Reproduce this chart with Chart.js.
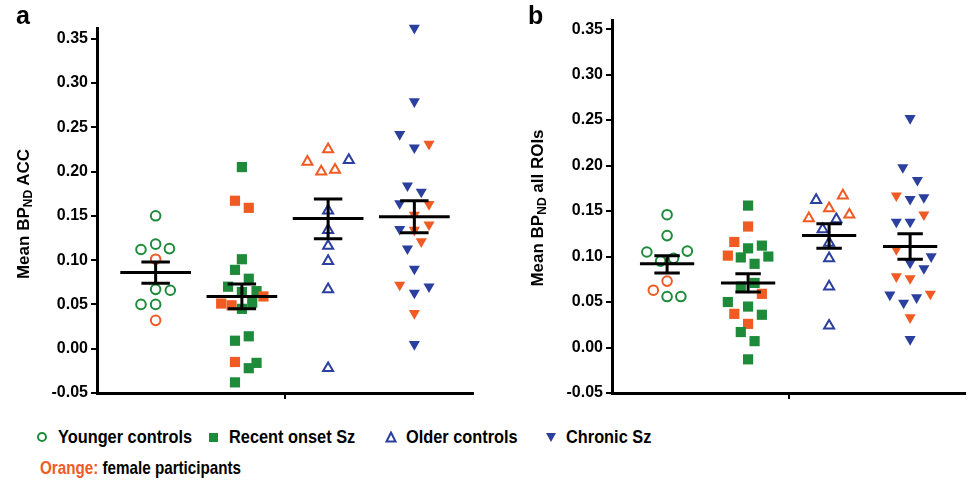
<!DOCTYPE html>
<html>
<head>
<meta charset="utf-8">
<script src="https://cdn.jsdelivr.net/npm/chart.js@4"></script>
<style>
  body { margin:0; background:#fff; width:973px; height:490px; position:relative; overflow:hidden; font-family:"Liberation Sans", Arial, sans-serif; color:#000; }
  canvas { position:absolute; top:0; }
  .tag { position:absolute; font-weight:bold; font-size:25px; line-height:26px; }
  .ylab { position:absolute; transform:translate(-50%,-50%) rotate(-90deg); white-space:nowrap; font-weight:bold; font-size:17px; }
  .ylab sub { font-size:12px; vertical-align:-3px; }
  .leg { position:absolute; font-family:"Liberation Sans", Arial, sans-serif; font-weight:bold; font-size:19px; line-height:20px; white-space:nowrap; transform:scaleX(0.86); transform-origin:0 50%; }
  .leg.small { transform:scaleX(0.8); }
  .mk { position:absolute; box-sizing:border-box; }
</style>
</head>
<body>
<canvas id="chartA" width="490" height="410" style="left:0"></canvas>
<canvas id="chartB" width="483" height="410" style="left:490px"></canvas>

<div class="tag" style="left:16px;top:2px">a</div>
<div class="tag" style="left:528px;top:2px">b</div>
<div class="ylab" style="left:24px;top:214px">Mean BP<sub>ND</sub> ACC</div>
<div class="ylab" style="left:538px;top:208px">Mean BP<sub>ND</sub> all ROIs</div>

<!-- legend -->
<div class="mk" style="left:37px;top:432px;width:10px;height:10px;border:2px solid #1e8b3a;border-radius:50%"></div>
<div class="leg" style="left:58px;top:427px">Younger controls</div>
<div class="mk" style="left:209px;top:433px;width:9px;height:9px;background:#1e8b3a"></div>
<div class="leg" style="left:229px;top:427px">Recent onset Sz</div>
<svg class="mk" style="left:385px;top:431px" width="12" height="12"><polygon points="6,1.5 10.5,10.5 1.5,10.5" fill="none" stroke="#2b3f9e" stroke-width="2"/></svg>
<div class="leg" style="left:406px;top:427px">Older controls</div>
<svg class="mk" style="left:545px;top:432px" width="12" height="11"><polygon points="1,1 11,1 6,10" fill="#2b3f9e"/></svg>
<div class="leg" style="left:566px;top:427px">Chronic Sz</div>
<div class="leg small" style="left:40px;top:458px"><span style="color:#f05a23">Orange:</span> female participants</div>

<script>
// groups (x categories 1..4)
const groups = ['Younger controls', 'Recent onset Sz', 'Older controls', 'Chronic Sz'];
const groupColors = ['#1e8b3a', '#1e8b3a', '#2b3f9e', '#2b3f9e'];
const femaleColor = '#f05a23';

// ---- panel a: Mean BPnd ACC ----
const youngAcc    = [0.150, 0.112, 0.118, 0.113, 0.101, 0.067, 0.066, 0.050, 0.050, 0.032];
const youngAccDx  = [0, -0.17, 0, 0.16, 0, 0, 0.17, -0.17, 0, 0];
const youngAccSex = ['M','M','M','M','F','M','M','M','M','F'];

const recentAcc    = [0.205, 0.167, 0.159, 0.101, 0.089, 0.079, 0.070, 0.064, 0.065, 0.059,
                      0.051, 0.049, 0.052, 0.045, 0.009, 0.014, -0.015, -0.016, -0.022, -0.038];
const recentAccDx  = [0, -0.08, 0.08, 0, -0.08, 0.08, -0.16, 0, 0.17, 0.25,
                      -0.24, -0.12, 0.12, 0, -0.08, 0.08, -0.08, 0.17, 0.08, -0.08];
const recentAccSex = ['M','F','F','M','M','M','M','M','M','F',
                      'F','F','M','M','M','M','F','M','M','M'];

const olderAcc    = [0.225, 0.211, 0.213, 0.200, 0.202, 0.156, 0.134, 0.116, 0.099, 0.067, -0.022];
const olderAccDx  = [0, -0.24, 0.24, -0.08, 0.08, 0, 0, 0, 0, 0, 0];
const olderAccSex = ['F','F','M','F','F','M','M','M','M','M','M'];

const chronicAcc    = [0.362, 0.279, 0.242, 0.227, 0.231, 0.184, 0.177, 0.164, 0.163, 0.151, 0.140,
                       0.135, 0.134, 0.121, 0.113, 0.090, 0.072, 0.070, 0.063, 0.040, 0.005];
const chronicAccDx  = [0, 0, -0.17, 0, 0.17, -0.08, 0.08, -0.17, 0.17, 0, 0.17,
                       -0.17, 0, 0.08, -0.08, 0, -0.17, 0.17, 0, 0, 0];
const chronicAccSex = ['M','M','M','M','F','M','M','M','F','F','F',
                       'M','F','F','M','M','F','M','M','F','M'];

const accMean  = [0.086, 0.059, 0.147, 0.149];
const accSemHi = [0.098, 0.073, 0.169, 0.167];
const accSemLo = [0.074, 0.045, 0.124, 0.131];

// ---- panel b: Mean BPnd all ROIs ----
const youngRoi    = [0.146, 0.123, 0.105, 0.106, 0.095, 0.098, 0.073, 0.063, 0.056, 0.056];
const youngRoiDx  = [0, 0, -0.25, 0.25, -0.08, 0.08, 0, -0.17, 0, 0.17];
const youngRoiSex = ['M','M','M','M','M','M','F','F','M','M'];

const recentRoi    = [0.156, 0.133, 0.116, 0.101, 0.109, 0.112, 0.099, 0.100, 0.092, 0.067,
                      0.071, 0.059, 0.050, 0.045, 0.037, 0.036, 0.026, 0.017, 0.007, -0.013];
const recentRoiDx  = [0, 0, -0.17, -0.25, 0, 0.17, -0.09, 0.25, 0.08, -0.09,
                      0.08, 0.17, -0.25, 0, -0.17, 0.17, 0, -0.09, 0.08, 0];
const recentRoiSex = ['M','F','F','F','M','M','M','M','M','M',
                      'M','F','M','M','F','M','F','M','M','M'];

const olderRoi    = [0.162, 0.167, 0.153, 0.142, 0.146, 0.141, 0.130, 0.115, 0.098, 0.067, 0.024];
const olderRoiDx  = [-0.16, 0.17, 0, -0.25, 0.25, 0.09, -0.08, 0, 0, 0, 0];
const olderRoiSex = ['M','F','F','F','F','M','M','M','M','M','M'];

const chronicRoi    = [0.252, 0.198, 0.184, 0.167, 0.163, 0.165, 0.146, 0.138, 0.138, 0.108, 0.093,
                       0.100, 0.087, 0.078, 0.076, 0.058, 0.059, 0.049, 0.055, 0.033, 0.009];
const chronicRoiDx  = [0, -0.09, 0.09, -0.17, 0, 0.17, 0.17, -0.17, 0, -0.17, 0,
                       0.26, 0.17, -0.17, 0, -0.25, 0.25, -0.08, 0.08, 0, 0];
const chronicRoiSex = ['M','M','M','F','M','M','F','M','M','F','M',
                       'M','M','F','F','M','F','M','M','F','M'];

const roiMean  = [0.092, 0.071, 0.123, 0.111];
const roiSemHi = [0.101, 0.081, 0.136, 0.125];
const roiSemLo = [0.082, 0.061, 0.109, 0.097];

const yTicksFrom = -0.05, yTickStep = 0.05;

// marker look per group
const markers = [
  { shape:'circle',   r:4.8, rot:0,   open:true  },
  { shape:'rect',     r:7.2, rot:0,   open:false },
  { shape:'triangle', r:5.8, rot:0,   open:true  },
  { shape:'triangle', r:6.4, rot:180, open:false }
];

function groupDataset(g, vals, dx, sex) {
  const m = markers[g];
  const cols = sex.map(s => s === 'F' ? femaleColor : groupColors[g]);
  return {
    type: 'scatter',
    label: groups[g],
    data: vals.map((v, i) => ({ x: g + 1 + dx[i], y: v })),
    pointStyle: m.shape,
    pointRadius: m.r,
    pointHoverRadius: m.r,
    pointRotation: m.rot,
    pointBorderWidth: m.open ? 2 : 0,
    pointBorderColor: cols,
    pointBackgroundColor: m.open ? 'rgba(0,0,0,0)' : cols,
    clip: false
  };
}

function errDataset(mean, lo, hi, hw, cw) {
  const pts = [];
  mean.forEach((m, i) => {
    const g = i + 1;
    pts.push({x:g-hw, y:m}, {x:g+hw, y:m}, {x:g, y:null},
             {x:g, y:lo[i]}, {x:g, y:hi[i]}, {x:g, y:null},
             {x:g-cw, y:hi[i]}, {x:g+cw, y:hi[i]}, {x:g, y:null},
             {x:g-cw, y:lo[i]}, {x:g+cw, y:lo[i]}, {x:g, y:null});
  });
  return {
    type: 'line', label: 'mean ± SEM', data: pts, showLine: true, spanGaps: false,
    borderColor: '#000', borderWidth: 3, borderCapStyle: 'butt',
    pointRadius: 0, pointHoverRadius: 0, tension: 0, fill: false, clip: false
  };
}

function makePanel(id, sets, mean, lo, hi, hw, cw, axisW, pad) {
  const datasets = [errDataset(mean, lo, hi, hw, cw)];
  sets.forEach((s, g) => datasets.push(groupDataset(g, s[0], s[1], s[2])));
  new Chart(document.getElementById(id), {
    type: 'scatter',
    data: { datasets: datasets },
    options: {
      responsive: false,
      animation: false,
      devicePixelRatio: 1,
      layout: { padding: pad },
      plugins: { legend: { display: false }, tooltip: { enabled: false } },
      scales: {
        x: {
          type: 'linear', min: 0.32, max: 4.68,
          afterBuildTicks: s => { s.ticks = [{ value: 2.5 }]; },
          ticks: { display: false },
          grid: { drawOnChartArea: false, drawTicks: true, tickLength: 6, color: '#000', lineWidth: 2 },
          border: { display: true, color: '#000', width: 3 },
          afterFit: s => { s.height = 10; }
        },
        y: {
          min: yTicksFrom, max: pad.ymax,
          ticks: {
            stepSize: yTickStep, includeBounds: false, padding: 3, color: '#000',
            font: { family: 'Liberation Sans', weight: 'bold', size: 16 },
            callback: v => Number(v).toFixed(2)
          },
          grid: { drawOnChartArea: false, drawTicks: true, tickLength: 6, color: '#000', lineWidth: 2 },
          border: { display: true, color: '#000', width: 3 },
          afterFit: s => { s.width = axisW; }
        }
      }
    }
  });
}

makePanel('chartA',
  [[youngAcc, youngAccDx, youngAccSex], [recentAcc, recentAccDx, recentAccSex],
   [olderAcc, olderAccDx, olderAccSex], [chronicAcc, chronicAccDx, chronicAccSex]],
  accMean, accSemLo, accSemHi, 0.41, 0.165, 97,
  { left: 0, top: 28, right: 17, bottom: 7, ymax: 0.362 });

makePanel('chartB',
  [[youngRoi, youngRoiDx, youngRoiSex], [recentRoi, recentRoiDx, recentRoiSex],
   [olderRoi, olderRoiDx, olderRoiSex], [chronicRoi, chronicRoiDx, chronicRoiSex]],
  roiMean, roiSemLo, roiSemHi, 0.335, 0.157, 122,
  { left: 0, top: 20, right: 1, bottom: 7, ymax: 0.36 });
</script>
</body>
</html>
